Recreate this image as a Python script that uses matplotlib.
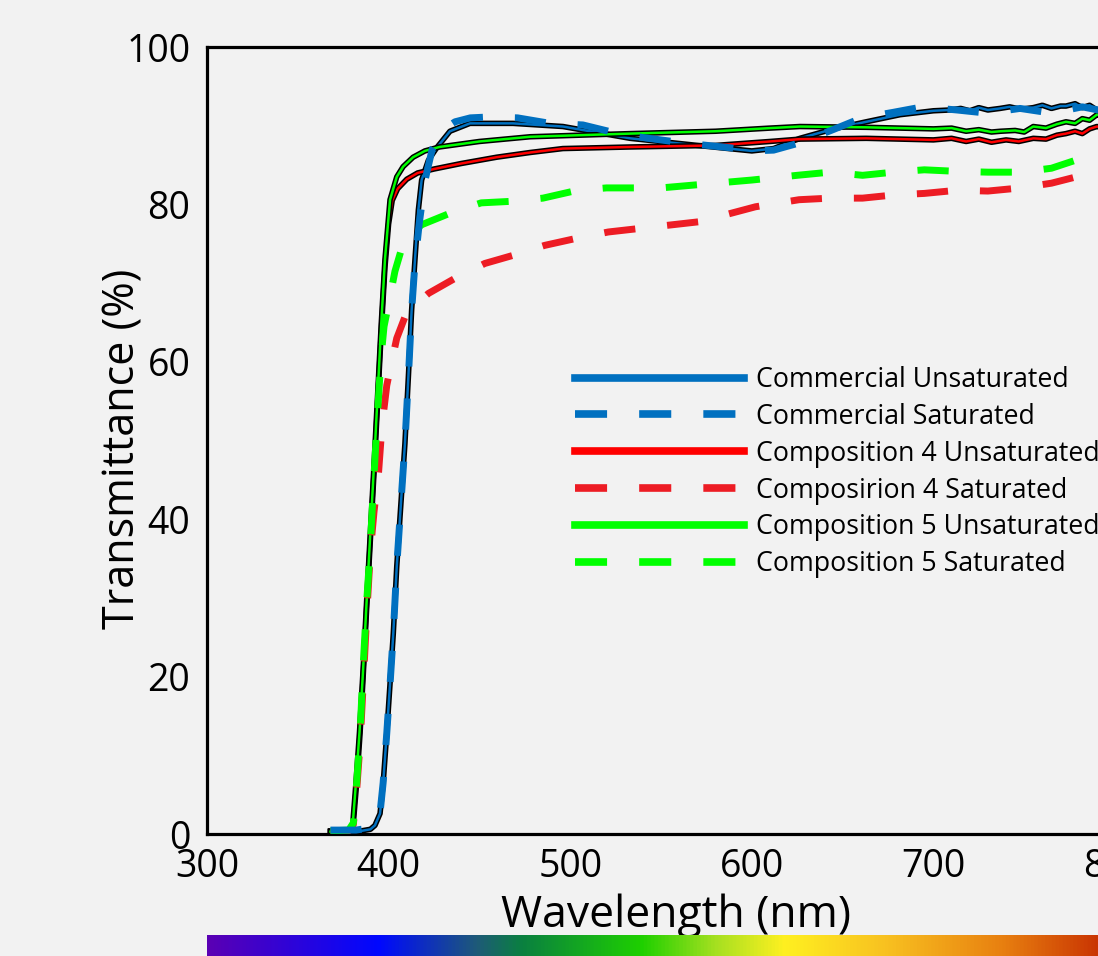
import numpy as np
import matplotlib
matplotlib.use("Agg")
import matplotlib.pyplot as plt
import matplotlib.patheffects as pe
from matplotlib.colors import LinearSegmentedColormap
from matplotlib.lines import Line2D

plt.rcParams["font.family"] = ["Open Sans", "DejaVu Sans"]

# Commercial, unsaturated
wl_com_u = [368, 385, 390, 392.5, 395.3, 397, 399, 400.8, 402.6, 404.5, 406.3, 409,
            410.9, 412.7, 414.5, 416.4, 418.2, 421.9, 426.5, 433.8, 444.8, 468.5, 496,
            533, 570, 600, 612, 626.5, 645, 663, 681.6, 700, 709, 715, 720, 725, 730,
            736.7, 742, 748, 755, 760, 765, 770, 773, 778, 782, 786, 790, 795, 800]
t_com_u = [0.4, 0.4, 0.6, 1.1, 2.6, 6.4, 12.8, 19.1, 25.5, 34.0, 40.3, 49.6,
           58.1, 66.6, 72.9, 79.3, 83.1, 85.6, 87.2, 89.3, 90.3, 90.3, 89.9,
           88.4, 87.5, 86.8, 87.1, 88.4, 89.6, 90.5, 91.4, 91.9, 92.0, 92.2, 91.9, 92.3, 92.0,
           92.2, 92.4, 92.1, 92.3, 92.6, 92.2, 92.5, 92.5, 92.8, 92.3, 92.6, 92.0, 92.4, 92.3]

# Commercial, saturated
wl_com_s = [368, 382, 388, 392.5, 395.3, 397, 399, 400.8, 402.6, 404.5, 406.3, 409,
            410.9, 412.7, 414.5, 416.9, 420, 424, 430, 436.6, 445, 454, 471, 489, 507,
            524.7, 540, 563, 588, 600, 612, 626, 644.7, 660.7, 677.8, 694, 713, 729.5,
            747.7, 765, 782, 790.6, 800]
t_com_s = [0.5, 0.5, 0.7, 1.2, 2.7, 6.5, 12.8, 19.0, 25.5, 34.0, 40.3, 49.6,
           58.0, 66.5, 72.5, 77.6, 83.0, 87.0, 89.5, 90.5, 91.0, 91.1, 91.0, 90.3, 90.1,
           89.1, 88.5, 87.8, 87.2, 86.8, 86.9, 87.8, 89.5, 91.0, 91.7, 92.4, 92.0, 91.6,
           92.2, 91.6, 92.4, 92.0, 92.3]

# Composition 4, unsaturated
wl_c4_u = [368, 376, 378.7, 380.6, 382.4, 384.3, 386, 388, 390, 392, 394, 396, 398,
           400, 402, 405, 410, 416, 425, 440, 459.5, 478, 496, 533, 580, 610, 626.5,
           663, 700, 710, 718, 725, 732, 740, 747, 755, 762, 768, 773, 778, 782, 786,
           790, 795, 800]
t_c4_u = [0.3, 0.3, 0.4, 1.4, 6.4, 12.8, 20.0, 29.0, 37.5, 46.0, 55.0, 64.0, 72.0,
          77.5, 80.5, 82.0, 83.2, 84.0, 84.5, 85.2, 86.0, 86.6, 87.1, 87.3, 87.5, 88.0, 88.3,
          88.4, 88.2, 88.4, 88.0, 88.3, 87.9, 88.2, 88.0, 88.4, 88.3, 88.8, 89.0, 89.3, 89.0,
          89.6, 89.9, 89.7, 90.0]

# Composition 4, saturated
wl_c4_s = [368, 378, 380.6, 382.4, 384.3, 386, 388, 390, 392, 394.5, 396.4, 399, 401.7,
           404.5, 409, 415, 422, 436.5, 453, 469.6, 486, 503.6, 521, 571, 602, 626, 643,
           661, 678, 695, 713, 730, 748, 765, 782, 790.6, 800]
t_c4_s = [0.3, 0.4, 1.2, 5.5, 11.5, 19.0, 28.0, 36.0, 41.0, 46.0, 52.0, 57.0, 60.0,
          63.0, 65.7, 67.3, 68.7, 70.6, 72.5, 73.6, 74.8, 75.7, 76.5, 77.8, 79.7, 80.6, 80.8,
          80.8, 81.2, 81.4, 81.8, 81.7, 82.1, 82.7, 83.7, 84.0, 84.3]

# Composition 5, unsaturated
wl_c5_u = [368, 376, 378.5, 380.3, 382, 384, 386, 388, 390, 392, 394, 396, 398, 400.8,
           404.5, 408, 413.5, 420, 428, 450, 478, 533, 580, 610, 626.5, 663, 700, 710, 718,
           725, 732, 737, 745, 750, 755, 762, 768, 773, 778, 782, 786, 790, 795, 800]
t_c5_u = [0.3, 0.3, 0.4, 1.4, 6.4, 13.0, 21.0, 30.0, 38.5, 47.0, 56.0, 65.0, 73.0, 80.6,
          83.5, 84.8, 86.0, 86.8, 87.3, 88.0, 88.6, 89.0, 89.3, 89.7, 89.9, 89.8, 89.6, 89.7, 89.3,
          89.5, 89.2, 89.3, 89.4, 89.2, 89.9, 89.7, 90.2, 90.5, 90.3, 90.9, 90.7, 91.4, 91.3, 91.6]

# Composition 5, saturated
wl_c5_s = [368, 378, 380.6, 382.4, 384.3, 386, 388, 389.8, 391.6, 393.6, 395.7, 397.5,
           400.8, 403.5, 407.2, 412, 418, 434, 451, 468, 485, 504, 520, 550, 600, 625,
           643, 661, 678, 695, 713, 730, 748, 765, 782, 790.6, 800]
t_c5_s = [0.4, 0.5, 1.4, 6.4, 12.8, 21.3, 29.7, 36.0, 44.0, 52.2, 60.2, 64.5,
          68.3, 71.5, 74.4, 76.0, 77.4, 78.9, 80.2, 80.4, 80.8, 81.8, 82.1, 82.1, 83.1, 83.7,
          84.1, 83.7, 84.1, 84.4, 84.2, 84.1, 84.1, 84.6, 85.9, 86.3, 86.6]

labels = ["Commercial Unsaturated", "Commercial Saturated",
          "Composition 4 Unsaturated", "Composirion 4 Saturated",
          "Composition 5 Unsaturated", "Composition 5 Saturated"]
colors = ["#0070c0", "#0070c0", "#ff0000", "#ed1c24", "#00ff00", "#00ff00"]

# spectrum strip colours along the wavelength axis
spec_nm = [300, 394, 448, 473, 539, 580, 618, 675, 738, 800]
spec_col = ["#5a00b4", "#0008ff", "#1e5a78", "#0a8040", "#1ed000", "#a6e020",
            "#fff020", "#f8c020", "#e88010", "#c42800"]

bg = "#f2f2f2"
fig = plt.figure(figsize=(10.98, 9.56), dpi=100, facecolor=bg)
ax = fig.add_axes([0.1885, 0.1276, 0.827, 0.8232], facecolor=bg)

outline = [pe.Stroke(linewidth=4.0, foreground="black"), pe.Normal()]
ax.plot(wl_com_u, t_com_u, color=colors[0], lw=1.8, path_effects=outline, zorder=2)
ax.plot(wl_c4_u, t_c4_u, color=colors[2], lw=1.8, path_effects=outline, zorder=2)
ax.plot(wl_c5_u, t_c5_u, color=colors[4], lw=1.8, path_effects=outline, zorder=2)
ax.plot(wl_c4_s, t_c4_s, color=colors[3], lw=5, dashes=(4.5, 4.6), zorder=3)
ax.plot(wl_c5_s, t_c5_s, color=colors[5], lw=5, dashes=(4.5, 4.6), zorder=3)
ax.plot(wl_com_s, t_com_s, color=colors[1], lw=5, dashes=(4.5, 4.6), zorder=3)

ax.set_xlim(300, 800)
ax.set_ylim(0, 100)
ax.set_xticks([300, 400, 500, 600, 700, 800])
ax.set_yticks([0, 20, 40, 60, 80, 100])
ax.tick_params(length=0, labelsize=27)
ax.tick_params(axis="x", pad=10)
ax.tick_params(axis="y", pad=12)
for s in ax.spines.values():
    s.set_linewidth(2.3)
ax.set_xlabel("Wavelength (nm)", fontsize=32)
ax.set_ylabel("Transmittance (%)", fontsize=31)
ax.xaxis.set_label_coords(0.517, -0.075)
ax.yaxis.set_label_coords(-0.068, 0.49)

handles = []
for i, c in enumerate(colors):
    if i % 2 == 0:
        handles.append(Line2D([], [], color=c, lw=5.5))
    else:
        handles.append(Line2D([], [], color=c, lw=5.5, dashes=(4.2, 4.2)))
ax.legend(handles, labels, loc="upper left", bbox_to_anchor=(575 / 1098, 1 - 366 / 956),
          bbox_transform=fig.transFigure, frameon=False, fontsize=19.3,
          handlelength=6.3, handletextpad=0.45, labelspacing=0.33, borderpad=0,
          borderaxespad=0)

# spectrum strip under the axis
cax = fig.add_axes([0.1885, 0.0, 0.827, 21 / 956])
cmap = LinearSegmentedColormap.from_list(
    "spec", [((n - 300) / 500, c) for n, c in zip(spec_nm, spec_col)])
cax.imshow(np.linspace(0, 1, 512)[None, :], aspect="auto", cmap=cmap,
           extent=[300, 800, 0, 1])
cax.set_axis_off()

fig.savefig("out.png", dpi=100, facecolor=bg)
